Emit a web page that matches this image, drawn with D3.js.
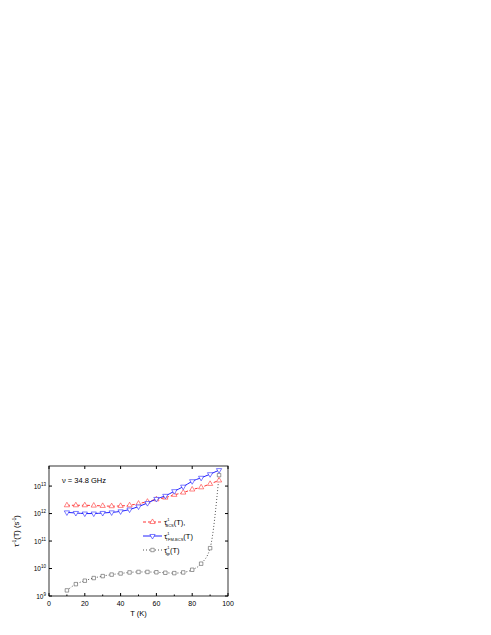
<!DOCTYPE html><html><head><meta charset="utf-8"><script src="https://cdn.jsdelivr.net/npm/d3@7"></script>
<style>body{margin:0;background:#fff}text{font-family:Arial,"Liberation Sans",sans-serif}</style></head><body>
<svg id="c" width="491" height="635"></svg>
<script>
const T=[10,15,20,25,30,35,40,45,50,55,60,65,70,75,80,85,90,95];
const bcs=[2e12,2e12,2e12,1.95e12,1.9e12,1.85e12,1.9e12,2e12,2.3e12,2.7e12,3.3e12,3.8e12,4.8e12,5.8e12,7.5e12,9e12,1.2e13,1.6e13];
const tfm=[1.1e12,1.05e12,1.0e12,1.0e12,1.05e12,1.1e12,1.2e12,1.4e12,1.8e12,2.4e12,3.4e12,4.4e12,6.5e12,9.5e12,1.5e13,2e13,2.7e13,3.8e13];
const qp=[1.6e9,2.7e9,3.6e9,4.5e9,5.3e9,6e9,6.6e9,7.2e9,7.5e9,7.5e9,7.3e9,7e9,6.8e9,7.2e9,9e9,1.5e10,5.5e10,2.5e13];
const xTicks=[0,20,40,60,80,100];
const yTicks=[1e9,1e10,1e11,1e12,1e13];
const svg=d3.select("#c");
const L=49,R=228,Tp=466,B=596;
const x=d3.scaleLinear([0,100],[L,R]);
const y=d3.scaleLog([1e9,Math.pow(10,13.73)],[B,Tp]);
svg.append("rect").attr("x",L).attr("y",Tp).attr("width",R-L).attr("height",B-Tp).attr("fill","none").attr("stroke","#000").attr("stroke-width",0.8);
const g=svg.append("g");
xTicks.forEach(t=>{g.append("line").attr("x1",x(t)).attr("x2",x(t)).attr("y1",B).attr("y2",B-3).attr("stroke","#000");
 g.append("line").attr("x1",x(t)).attr("x2",x(t)).attr("y1",Tp).attr("y2",Tp+3).attr("stroke","#000");
 g.append("text").attr("x",x(t)).attr("y",B+10).attr("text-anchor","middle").attr("font-size",7).text(t);});
d3.range(10,100,20).forEach(t=>{g.append("line").attr("x1",x(t)).attr("x2",x(t)).attr("y1",B).attr("y2",B-1.5).attr("stroke","#000");});
yTicks.forEach(t=>{g.append("line").attr("x1",L).attr("x2",L+3).attr("y1",y(t)).attr("y2",y(t)).attr("stroke","#000");
 g.append("line").attr("x1",R).attr("x2",R-3).attr("y1",y(t)).attr("y2",y(t)).attr("stroke","#000");
 const tx=g.append("text").attr("x",L-3).attr("y",y(t)+2.5).attr("text-anchor","end").attr("font-size",6.5);
 tx.append("tspan").text("10");tx.append("tspan").attr("dy",-3).attr("font-size",4.5).text(Math.round(Math.log10(t)));});
const line=d3.line().x((d,i)=>x(T[i])).y(d=>y(d)).curve(d3.curveMonotoneX);
function series(data,col,dash,sym){
 svg.append("path").attr("d",line(data)).attr("fill","none").attr("stroke",col).attr("stroke-width",1).attr("stroke-dasharray",dash);
 data.forEach((d,i)=>svg.append("path").attr("transform",`translate(${x(T[i])},${y(d)})`+(sym=="down"?" rotate(180)":"")).attr("d",d3.symbol(sym=="sq"?d3.symbolSquare:d3.symbolTriangle,12)()).attr("fill","#fff").attr("stroke",col).attr("stroke-width",0.6));
}
series(qp,"#555","1,2","sq");
series(bcs,"#ff3333","3,2","up");
series(tfm,"#2222ff",null,"down");
svg.append("text").attr("x",62).attr("y",483).attr("font-size",7.5).text("ν = 34.8 GHz");
const leg=[["#ff3333","3,2","up","BCS","(T),"],["#2222ff",null,"down","TFM-BCS","(T)"],["#555","1,2","sq","qp","(T)"]];
leg.forEach((l,i)=>{const yy=522+i*14;
 svg.append("line").attr("x1",143).attr("x2",162).attr("y1",yy).attr("y2",yy).attr("stroke",l[0]).attr("stroke-dasharray",l[1]);
 svg.append("path").attr("transform",`translate(152.5,${yy})`+(l[2]=="down"?" rotate(180)":"")).attr("d",d3.symbol(l[2]=="sq"?d3.symbolSquare:d3.symbolTriangle,12)()).attr("fill","#fff").attr("stroke",l[0]).attr("stroke-width",0.6);
 const t=svg.append("text").attr("x",164).attr("y",yy+3).attr("font-size",7.5);
 t.append("tspan").text("τ");t.append("tspan").attr("font-size",4).attr("dy",-4).attr("dx",-1).text("-1");
 t.append("tspan").attr("font-size",4).attr("dy",6).attr("dx",-4).text(l[3]);t.append("tspan").attr("dy",-2).text(l[4]);});
const yl=svg.append("text").attr("transform","translate(19,531) rotate(-90)").attr("text-anchor","middle").attr("font-size",7.5);
yl.append("tspan").text("τ");yl.append("tspan").attr("font-size",4.5).attr("dy",-3).text("-1");yl.append("tspan").attr("dy",3).text("(T) (s");yl.append("tspan").attr("font-size",4.5).attr("dy",-3).text("-1");yl.append("tspan").attr("dy",3).text(")");
svg.append("text").attr("x",(L+R)/2).attr("y",616).attr("text-anchor","middle").attr("font-size",7.5).text("T (K)");
</script></body></html>
